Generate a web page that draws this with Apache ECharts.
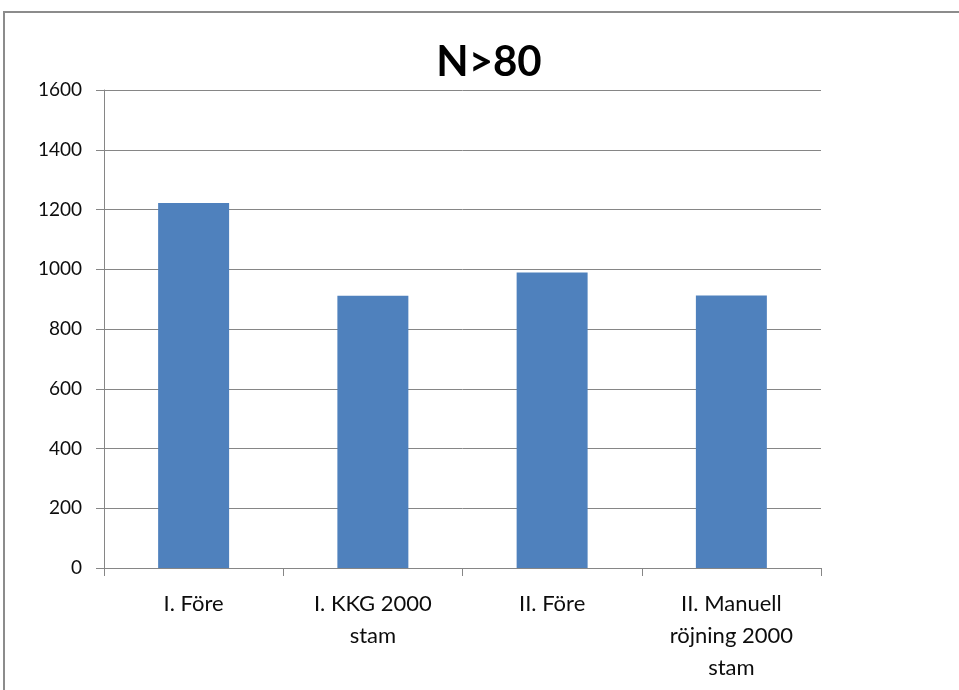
<!DOCTYPE html>
<html>
<head>
<meta charset="utf-8">
<script src="https://cdn.jsdelivr.net/npm/echarts@6/dist/echarts.min.js"></script>
<style>
  html, body { margin: 0; padding: 0; background: #ffffff; }
  #chart { width: 959px; height: 690px; }
</style>
</head>
<body>
<div id="chart"></div>
<script>
// Stem counts per treatment (N>80)
var categories = ['I. Före', 'I. KKG 2000\nstam', 'II. Före', 'II. Manuell\nröjning 2000\nstam'];
var stemCounts = [1222, 911, 989, 912];
var yTicks = { min: 0, max: 1600, interval: 200 };
var chartTitle = 'N>80';

var chart = echarts.init(document.getElementById('chart'), null, { renderer: 'canvas' });
var gray = '#868686';
var fontFamily = 'Lato, "Liberation Sans", sans-serif';

chart.setOption({
  animation: false,
  backgroundColor: '#ffffff',
  graphic: [{
    type: 'rect',
    shape: { x: 4, y: 12, width: 1000, height: 720 },
    style: { fill: 'none', stroke: '#8c8c8c', lineWidth: 2 },
    silent: true,
    z: -1
  }],
  title: {
    text: chartTitle,
    left: 484,
    textAlign: 'center',
    top: 36,
    textStyle: { fontFamily: fontFamily, fontSize: 42, fontWeight: 'bold', color: '#000000' }
  },
  grid: { left: 104, right: 138, top: 90, bottom: 122, containLabel: false },
  xAxis: {
    type: 'category',
    data: categories,
    axisLine: { show: true, lineStyle: { color: gray, width: 1 } },
    axisTick: { show: true, length: 8, lineStyle: { color: gray } },
    axisLabel: {
      interval: 0,
      margin: 20,
      color: '#0d0d0d',
      fontFamily: fontFamily,
      fontSize: 22,
      lineHeight: 32,
      align: 'center'
    },
    splitLine: { show: false }
  },
  yAxis: {
    type: 'value',
    min: yTicks.min,
    max: yTicks.max,
    interval: yTicks.interval,
    axisLine: { show: true, lineStyle: { color: gray, width: 1 } },
    axisTick: { show: true, length: 8, lineStyle: { color: gray } },
    axisLabel: {
      margin: 22,
      color: '#0d0d0d',
      fontFamily: fontFamily,
      fontSize: 19,
      formatter: function (v) { return String(v); }
    },
    splitLine: { show: true, lineStyle: { color: gray, width: 1 } }
  },
  series: [{
    type: 'bar',
    data: stemCounts,
    barWidth: '39.6%',
    itemStyle: { color: '#4F81BD' }
  }]
});
</script>
</body>
</html>
